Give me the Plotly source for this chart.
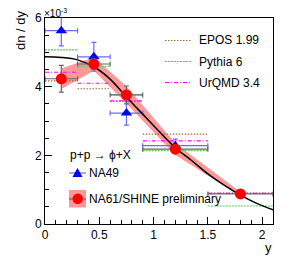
import plotly.graph_objects as go

# ---------------- data (units of 1e-3) ----------------
bin_lo = [0.0, 0.3, 0.6, 0.9, 1.5]
bin_hi = [0.3, 0.6, 0.9, 1.5, 2.1]
bin_mid = [0.15, 0.45, 0.75, 1.2, 1.8]

na61_y = [4.23, 4.66, 3.76, 2.18, 0.875]
na61_stat = [0.39, 0.15, 0.26, 0.10, 0.05]
na61_sys = [0.30, 0.20, 0.25, 0.17, 0.06]

na49_x = [0.15, 0.45, 0.75, 1.2]
na49_lo = [0.0, 0.3, 0.6, 0.9]
na49_hi = [0.3, 0.6, 0.9, 1.5]
na49_y = [5.63, 4.87, 3.23, 2.28]
na49_err = [0.44, 0.42, 0.35, 0.19]

epos = [4.17, 3.94, 3.57, 2.62, 0.90]
pythia = [5.07, 4.59, 3.76, 2.14, 0.525]
urqmd = [4.42, 4.10, 3.59, 2.42, 0.89]

fit_x = [0.0, 0.15, 0.3, 0.45, 0.6, 0.75, 0.9, 1.05, 1.2, 1.35, 1.5, 1.65, 1.8, 1.95, 2.1]
fit_y = [4.87, 4.85, 4.78, 4.58, 4.22, 3.70, 3.20, 2.70, 2.22, 1.85, 1.46, 1.13, 0.84, 0.60, 0.41]

x_ticks = [0, 0.5, 1, 1.5, 2]
x_ticklabels = ["0", "0.5", "1", "1.5", "2"]
y_ticks = [0, 2, 4, 6]
y_ticklabels = ["0", "2", "4", "6"]

FONT = "Liberation Sans, Arial, Helvetica, sans-serif"

# pixel geometry helpers (plot area 45..273 x 18..224)
L, R, T, B = 45, 273, 18, 224
W, H = 291, 267


def px(x):
    return (x - L) / (R - L)


def py(y):
    return (B - y) / (B - T)


fig = go.Figure()

# systematic band for NA61
band_up = [v + s for v, s in zip(na61_y, na61_sys)]
band_dn = [v - s for v, s in zip(na61_y, na61_sys)]
fig.add_trace(go.Scatter(
    x=bin_mid + bin_mid[::-1], y=band_up + band_dn[::-1],
    fill="toself", fillcolor="rgba(255,0,0,0.4)", line=dict(width=0),
    mode="lines", hoverinfo="skip", showlegend=False))


def steps(vals):
    xs, ys = [], []
    for lo, hi, v in zip(bin_lo, bin_hi, vals):
        xs += [lo, hi, None]
        ys += [v, v, None]
    return xs, ys


models = [
    ("EPOS 1.99", epos, "rgb(170,100,55)", "1.5px,1.5px"),
    ("Pythia 6", pythia, "rgb(95,200,95)", "2px,1px"),
    ("UrQMD 3.4", urqmd, "rgb(255,0,255)", "4px,2px,1px,2px"),
]
for name, vals, col, dash in models:
    xs, ys = steps(vals)
    fig.add_trace(go.Scatter(x=xs, y=ys, mode="lines", name=name,
                             line=dict(color=col, width=1.2, dash=dash),
                             showlegend=False))

# NA49
fig.add_trace(go.Scatter(
    x=na49_x, y=na49_y, mode="markers", name="NA49",
    marker=dict(symbol="triangle-up", size=10, color="#0000ff"),
    error_y=dict(type="data", array=na49_err, color="#6a6aff", thickness=1.2, width=2.5),
    error_x=dict(type="data",
                 array=[h - x for h, x in zip(na49_hi, na49_x)],
                 arrayminus=[x - l for l, x in zip(na49_lo, na49_x)],
                 color="#6a6aff", thickness=1.2, width=2.5),
    showlegend=False))

# fit curve
fig.add_trace(go.Scatter(x=fit_x, y=fit_y, mode="lines", line=dict(color="black", width=1.5, shape="spline"),
                         showlegend=False, hoverinfo="skip"))

# NA61
fig.add_trace(go.Scatter(
    x=bin_mid, y=na61_y, mode="markers", name="NA61/SHINE preliminary",
    marker=dict(symbol="circle", size=11, color="#ff0000"),
    error_y=dict(type="data", array=na61_stat, color="#666666", thickness=1.2, width=2.5),
    error_x=dict(type="data",
                 array=[h - x for h, x in zip(bin_hi, bin_mid)],
                 arrayminus=[x - l for l, x in zip(bin_lo, bin_mid)],
                 color="#666666", thickness=1.2, width=2.5),
    showlegend=False))

shapes = []
annotations = []

# legend 1 (models)
leg1_y = [40.5, 61.5, 82.5]
for (name, vals, col, dash), yy in zip(models, leg1_y):
    shapes.append(dict(type="line", xref="paper", yref="paper",
                       x0=px(165), x1=px(192), y0=py(yy), y1=py(yy),
                       line=dict(color=col, width=1.2, dash=dash)))
    annotations.append(dict(xref="paper", yref="paper", x=px(198), y=py(yy),
                            text=name, showarrow=False, xanchor="left", yanchor="middle",
                            borderpad=0,
                            font=dict(family=FONT, size=12, color="black")))

# legend 2 (data)
annotations.append(dict(xref="paper", yref="paper", x=px(69), y=py(155),
                        text="p+p \u2192 \u03d5+X", showarrow=False, xanchor="left", yanchor="middle",
                        borderpad=0,
                        font=dict(family=FONT, size=12, color="black")))
# NA49 entry
shapes.append(dict(type="line", xref="paper", yref="paper", x0=px(69), x1=px(86),
                   y0=py(173), y1=py(173), line=dict(color="#6a6aff", width=1.2)))
shapes.append(dict(type="path", xref="paper", yref="paper",
                   path=f"M {px(72.5)} {py(177)} L {px(82.5)} {py(177)} L {px(77.5)} {py(168)} Z",
                   fillcolor="#0000ff", line=dict(width=0)))
annotations.append(dict(xref="paper", yref="paper", x=px(87.5), y=py(173),
                        text="NA49", showarrow=False, xanchor="left", yanchor="middle",
                        borderpad=0,
                        font=dict(family=FONT, size=12, color="black")))
# NA61 entry
shapes.append(dict(type="rect", xref="paper", yref="paper", x0=px(69), x1=px(86),
                   y0=py(207.5), y1=py(190), fillcolor="rgba(255,0,0,0.4)", line=dict(width=0)))
shapes.append(dict(type="line", xref="paper", yref="paper", x0=px(69), x1=px(86),
                   y0=py(199), y1=py(199), line=dict(color="#666666", width=1.2)))
shapes.append(dict(type="circle", xref="paper", yref="paper", x0=px(72.5), x1=px(83),
                   y0=py(204), y1=py(193.5), fillcolor="#ff0000", line=dict(width=0)))
annotations.append(dict(xref="paper", yref="paper", x=px(87.5), y=py(199),
                        text="NA61/SHINE preliminary", showarrow=False, xanchor="left", yanchor="middle",
                        borderpad=0,
                        font=dict(family=FONT, size=12, color="black")))

# axis titles / exponent
annotations.append(dict(xref="paper", yref="paper", x=px(20), y=py(9),
                        text="dn / dy", textangle=-90, showarrow=False,
                        xanchor="center", yanchor="top", borderpad=0,
                        font=dict(family=FONT, size=13, color="black")))
annotations.append(dict(xref="paper", yref="paper", x=px(273), y=py(256),
                        text="y", showarrow=False, xanchor="right", yanchor="bottom",
                        borderpad=0,
                        font=dict(family=FONT, size=13, color="black")))
annotations.append(dict(xref="paper", yref="paper", x=px(43), y=py(19.5),
                        text="\u00d710<sup>-3</sup>", showarrow=False, xanchor="left", yanchor="bottom",
                        borderpad=0,
                        font=dict(family=FONT, size=10, color="black")))

fig.update_layout(
    width=W, height=H,
    margin=dict(l=L, r=W - R, t=T, b=H - B),
    paper_bgcolor="white", plot_bgcolor="white",
    showlegend=False,
    font=dict(family=FONT, size=12, color="black"),
    shapes=shapes, annotations=annotations,
)
fig.update_xaxes(range=[0, 2.1], tickvals=x_ticks, ticktext=x_ticklabels,
                 ticks="inside", ticklen=7, tickwidth=1, tickcolor="black",
                 showline=True, linecolor="black", linewidth=1, mirror=True,
                 showgrid=False, zeroline=False,
                 minor=dict(dtick=0.1, tick0=0, ticks="inside", ticklen=4, tickcolor="black", showgrid=False),
                 tickfont=dict(family=FONT, size=12, color="black"))
fig.update_yaxes(range=[0, 6], tickvals=y_ticks, ticktext=y_ticklabels,
                 ticks="inside", ticklen=7, tickwidth=1, tickcolor="black",
                 showline=True, linecolor="black", linewidth=1, mirror=True,
                 showgrid=False, zeroline=False,
                 minor=dict(dtick=0.5, tick0=0, ticks="inside", ticklen=4, tickcolor="black", showgrid=False),
                 tickfont=dict(family=FONT, size=12, color="black"))

fig.write_html("out.html", config={"displayModeBar": False},
               post_script="document.body.style.margin='0';document.body.style.overflow='hidden';")
